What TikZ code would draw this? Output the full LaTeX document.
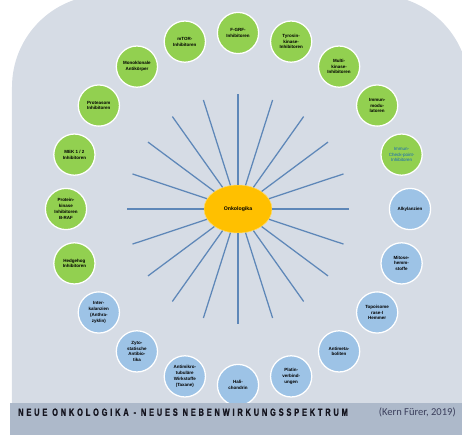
\documentclass[tikz,border=0pt]{standalone}
\usepackage{fontspec}
\setmainfont{Liberation Sans}
\newfontfamily\titlefont[LetterSpace=27, FakeStretch=0.7, FakeBold=1.2]{Liberation Sans}
\newfontfamily\notefont{Carlito}
\usepackage{tikz}
\usetikzlibrary{shapes.geometric, positioning}

\definecolor{slide}{HTML}{D6DCE5}
\definecolor{band}{HTML}{ADB9CA}
\definecolor{leaf}{HTML}{92D050}
\definecolor{sky}{HTML}{9DC3E6}
\definecolor{sun}{HTML}{FFC000}
\definecolor{beam}{HTML}{5E87B8}
\definecolor{ink}{HTML}{14141E}
\definecolor{checkblue}{HTML}{1565B8}
\definecolor{cite}{HTML}{3B3F5C}

\begin{document}
\begin{tikzpicture}[
    font=\fontsize{3.2}{4.1}\selectfont\bfseries,
    agent/.style={circle, draw=white, line width=0.9pt, minimum size=1.03cm, inner sep=0pt, align=center},
    newdrug/.style={agent, fill=leaf},
    classic/.style={agent, fill=sky},
    hub/.style={ellipse, fill=sun, draw=sun!60!white, line width=0.4pt, minimum width=1.7cm, minimum height=1.2cm, inner sep=0pt, font=\fontsize{3.7}{4.5}\selectfont\bfseries},
    ray/.style={beam, line width=0.9pt, shorten >=1cm}
]

% Slide
\path[use as bounding box, clip] (-5.95,-5.625) rectangle (5.6,5.225);
\fill[slide, rounded corners=2.3cm] (-5.65,-8) rectangle (5.775,5.35);

% Centre
\node[hub] (onko) at (0,0) {Onkologika};

% New agents
\node[newdrug] (fgrf) at (90:4.3 and 4.4) {F-GRF-\\Inhibitoren};
\node[newdrug] (tyrosin) at (72:4.3 and 4.4) {Tyrosin-\\kinase-\\Inhibitoren};
\node[newdrug] (multi) at (54:4.3 and 4.4) {Multi-\\kinase-\\Inhibitoren};
\node[newdrug] (immunmod) at (36:4.3 and 4.4) {Immun-\\modu-\\latoren};
\node[newdrug, text=checkblue, font=\fontsize{3.2}{4.1}\selectfont] (checkpoint) at (18:4.3 and 4.4) {Immun-\\Check-point-\\Inhibitoren};
\node[newdrug] (hedgehog) at (-162:4.3 and 4.4) {Hedgehog\\Inhibitoren};
\node[newdrug] (braf) at (180:4.3 and 4.4) {Protein-\\kinase\\Inhibitoren\\B-RAF};
\node[newdrug] (mek) at (162:4.3 and 4.4) {MEK 1 / 2\\Inhibitoren};
\node[newdrug] (proteasom) at (144:4.3 and 4.4) {Proteasom\\Inhibitoren};
\node[newdrug] (mab) at (126:4.3 and 4.4) {Monoklonale\\Antikörper};
\node[newdrug] (mtor) at (108:4.3 and 4.4) {mTOR-\\Inhibitoren};

% Classic cytostatics
\node[classic] (alkyl) at (0:4.3 and 4.4) {Alkylanzien};
\node[classic] (mitose) at (-18:4.3 and 4.4) {Mitose-\\hemm-\\stoffe};
\node[classic] (topo) at (-36:4.3 and 4.4) {Topoisome\\rase-I\\Hemmer};
\node[classic] (antimet) at (-54:4.3 and 4.4) {Antimeta-\\boliten};
\node[classic] (platin) at (-72:4.3 and 4.4) {Platin-\\verbind-\\ungen};
\node[classic] (hali) at (-90:4.3 and 4.4) {Hali-\\chondrin};
\node[classic] (taxane) at (-108:4.3 and 4.4) {Antimikro-\\tubuläre\\Wirkstoffe\\(Taxane)};
\node[classic] (zyto) at (-126:4.3 and 4.4) {Zyto-\\statische\\Antibio-\\tika};
\node[classic] (interkal) at (-144:4.3 and 4.4) {Inter-\\kalanzien\\(Anthra-\\zyklin)};

% Rays
\draw[ray] (onko) -- (fgrf);
\draw[ray] (onko) -- (tyrosin);
\draw[ray] (onko) -- (multi);
\draw[ray] (onko) -- (immunmod);
\draw[ray] (onko) -- (checkpoint);
\draw[ray] (onko) -- (alkyl);
\draw[ray] (onko) -- (mitose);
\draw[ray] (onko) -- (topo);
\draw[ray] (onko) -- (antimet);
\draw[ray] (onko) -- (platin);
\draw[ray] (onko) -- (hali);
\draw[ray] (onko) -- (taxane);
\draw[ray] (onko) -- (zyto);
\draw[ray] (onko) -- (interkal);
\draw[ray] (onko) -- (hedgehog);
\draw[ray] (onko) -- (braf);
\draw[ray] (onko) -- (mek);
\draw[ray] (onko) -- (proteasom);
\draw[ray] (onko) -- (mab);
\draw[ray] (onko) -- (mtor);

% Footer
\fill[band] (-5.7,-4.85) rectangle (5.7,-5.7);
\node[anchor=west, inner sep=0pt, text=ink, font=\titlefont\fontsize{7.5}{8}\selectfont\bfseries] (title) at (-5.5,-5.08) {NEUE ONKOLOGIKA - NEUES NEBENWIRKUNGSSPEKTRUM};
\node[anchor=east, inner sep=0pt, text=cite, font=\notefont\fontsize{7.5}{8}\selectfont] (source) at (5.45,-5.08) {(Kern Fürer, 2019)};

\end{tikzpicture}
\end{document}
